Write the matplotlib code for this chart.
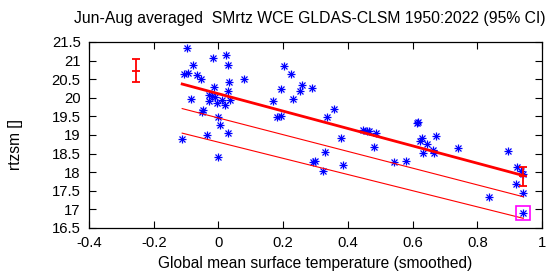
import matplotlib
matplotlib.use("Agg")
import matplotlib.pyplot as plt
import numpy as np

plt.rcParams['font.family'] = ['Liberation Sans', 'DejaVu Sans']
plt.rcParams['axes.unicode_minus'] = False

# scatter data: global mean temperature (smoothed) vs rtzsm
gmst = [-0.097, -0.105, -0.095, -0.078, -0.067, -0.054, -0.085, -0.114, -0.052, -0.047,
        -0.036, -0.016, -0.014, -0.028, -0.028, -0.005, -0.012, 0.000, 0.005, 0.000,
        0.023, 0.030, 0.032, 0.030, 0.035, 0.020, 0.030, 0.079, 0.168, 0.182,
        0.192, 0.204, 0.223, 0.192, 0.231, 0.252, 0.257, 0.290, 0.336, 0.358,
        0.378, 0.386, 0.293, 0.299, 0.329, 0.324, 0.448, 0.458, 0.466, 0.487,
        0.481, 0.543, 0.580, 0.615, 0.618, 0.628, 0.623, 0.645, 0.662, 0.666,
        0.631, 0.671, 0.741, 0.837, 0.896, 0.924, 0.935, 0.921, 0.940, 0.942,
        0.940, -0.020, 0.010]
rtzsm = [21.35, 20.63, 20.66, 20.87, 20.62, 20.50, 19.96, 18.88, 19.63, 19.67,
         19.00, 21.07, 20.29, 20.08, 19.91, 19.87, 20.02, 19.48, 19.27, 18.40,
         21.15, 20.88, 20.43, 20.19, 19.93, 19.81, 19.06, 20.51, 19.91, 19.49,
         19.51, 20.85, 20.63, 20.24, 19.97, 20.18, 20.35, 20.26, 19.48, 19.69,
         18.91, 18.20, 18.28, 18.31, 18.54, 18.04, 19.14, 19.12, 19.10, 19.06,
         18.69, 18.27, 18.30, 19.31, 19.36, 18.92, 18.85, 18.75, 18.60, 18.52,
         18.52, 18.98, 18.64, 17.33, 18.58, 18.15, 18.04, 17.68, 17.45, 16.91,
         17.95, 20.05, 19.95]

# fitted line and shifted lines (endpoints)
fit_x = [-0.112, 0.942]
fit_y = [20.37, 17.91]
fit1_y = [19.71, 17.34]
fit2_y = [19.05, 16.76]

# confidence intervals
ci_x = [-0.255, 0.942]
ci_mid = [20.72, 17.91]
ci_lo = [20.42, 17.64]
ci_hi = [21.04, 18.15]

# highlighted point (2022)
hl_x = [0.942]
hl_y = [16.91]

xticks = [-0.4, -0.2, 0, 0.2, 0.4, 0.6, 0.8, 1]
yticks = [16.5, 17, 17.5, 18, 18.5, 19, 19.5, 20, 20.5, 21, 21.5]

fig = plt.figure(figsize=(5.5, 2.77), dpi=100)
ax = fig.add_axes([0.1618, 0.1769, 0.9855 - 0.1618, 0.8484 - 0.1769])

ax.plot(gmst, rtzsm, linestyle='none', marker='+', color='#0000ff', markersize=6, markeredgewidth=0.9)
ax.plot(gmst, rtzsm, linestyle='none', marker='x', color='#0000ff', markersize=4.3, markeredgewidth=0.9)

ax.plot(fit_x, fit_y, color='#ff0000', lw=2.0)
ax.plot(fit_x, fit1_y, color='#ff0000', lw=0.8)
ax.plot(fit_x, fit2_y, color='#ff0000', lw=0.8)

yerr = [np.array(ci_mid) - np.array(ci_lo), np.array(ci_hi) - np.array(ci_mid)]
ax.errorbar(ci_x, ci_mid, yerr=yerr, fmt='none', ecolor='#ff0000', elinewidth=1.3,
            capsize=3, capthick=1.3)
ax.plot(ci_x, ci_mid, linestyle='none', marker='_', color='#ff0000', markersize=6, markeredgewidth=1.3)

ax.plot(hl_x, hl_y, linestyle='none', marker='s', markersize=10, markerfacecolor='none',
        markeredgecolor='#ff00ff', markeredgewidth=1.2)

ax.set_xlim(-0.4, 1.0)
ax.set_ylim(16.5, 21.5)
ax.set_xticks(xticks)
ax.set_yticks(yticks)
ax.set_xticklabels(['%g' % v for v in xticks])
ax.set_yticklabels(['%g' % v for v in yticks])
ax.tick_params(direction='in', top=True, right=True, length=5, width=0.8, labelsize=10.7)
ax.tick_params(axis='x', pad=6)
ax.tick_params(axis='y', pad=6)
for s in ax.spines.values():
    s.set_linewidth(0.9)

ax.set_xlabel('Global mean surface temperature (smoothed)', fontsize=11.2, labelpad=4)
ax.set_ylabel('rtzsm []', fontsize=11.2)
ax.yaxis.set_label_coords(-0.145, 0.45)
fig.text(74 / 550, 1 - 18.5 / 277, 'Jun-Aug averaged  SMrtz WCE GLDAS-CLSM 1950:2022 (95% CI)',
         fontsize=11.3, ha='left', va='center')

fig.savefig('out.png', dpi=100)
